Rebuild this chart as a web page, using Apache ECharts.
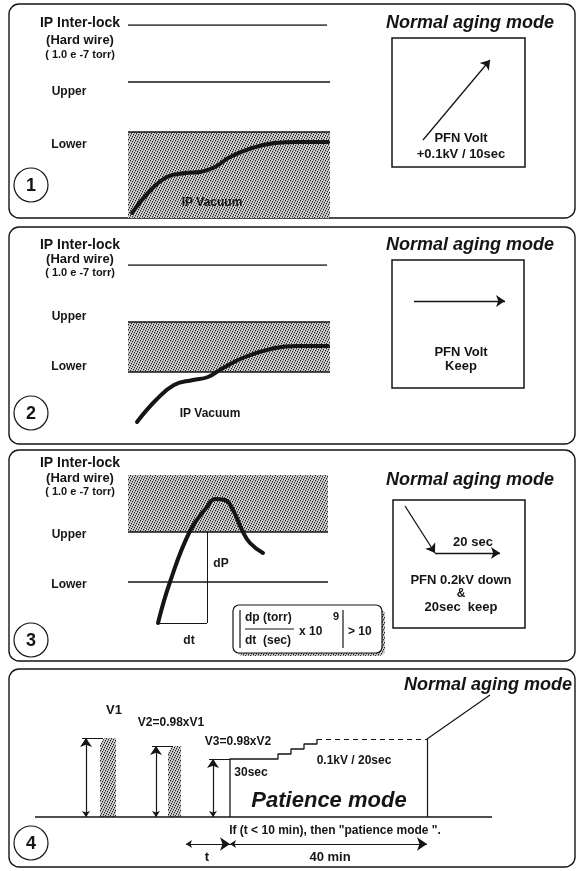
<!DOCTYPE html>
<html>
<head>
<meta charset="utf-8">
<script src="https://cdn.jsdelivr.net/npm/echarts@6/dist/echarts.min.js"></script>
<style>
html, body { margin: 0; padding: 0; background: #fff; }
#main { width: 582px; height: 871px; }
</style>
</head>
<body>
<div id="main"></div>
<script>
// pressure levels (same scale in panels 1-3)
var levelInterlock = 190;
var levelUpper = 133;
var levelLower = 83;

// panel 1 : IP vacuum stays under lower level
var p1VacX = [4, 20, 39, 58, 72, 87, 102, 124, 147, 169, 200];
var p1VacY = [2, 22, 38, 42, 43, 48, 58, 67, 72, 73, 73];
// panel 2 : crosses lower level, settles inside band
var p2VacX = [9, 28, 46, 65, 80, 95, 117, 147, 169, 200];
var p2VacY = [33, 55, 70, 75, 78, 87, 98, 107, 109, 109];
// panel 3 : overshoot above upper level
var p3VacX = [30, 42, 62, 79, 87, 97, 105, 114, 122, 135];
var p3VacY = [42, 83, 134, 158, 166, 165, 155, 135, 122, 112];
var p3DtX = [30, 79];
var p3DpY = [42, 133];

// PFN volt arrows inside the right boxes [x0, y0, x1, y1]
var box1Arrow = [31, 27, 98, 107];
var box2Arrow = [22, 87, 113, 87];
var box3Down = [12, 122, 42, 75];
var box3Keep = [42, 75, 107, 75];

// panel 4 : trip pulses and patience mode
var pulseX0 = [65, 133];
var pulseX1 = [81, 146];
var pulseV = [79, 71];
var vMarkX = [51, 121, 178];
var vMarkH = [79, 71, 58];
var stepX = [195, 195, 243, 243, 256, 256, 269, 269, 282, 282];
var stepY = [0, 58, 58, 63, 63, 68, 68, 73, 73, 78];
var normalV = 78;
var patienceEndX = 392;
var leaderEnd = [455, 122];
var baseEndX = 457;
var tStartX = 151;
var tEndX = 195;
var intervalY = -27;

var chart = echarts.init(document.getElementById('main'));

function zip(xs, ys) {
    return xs.map(function (x, i) { return [x, ys[i]]; });
}
function seg(x0, y0, x1, y1) {
    return { coords: [[x0, y0], [x1, y1]] };
}

// stipple fill, one dot per row and column in a 5x5 tile
function makeDots() {
    var c = document.createElement('canvas');
    c.width = 5; c.height = 5;
    var g = c.getContext('2d');
    g.fillStyle = '#cfcfcf';
    g.fillRect(0, 0, 5, 5);
    g.fillStyle = '#1e1e1e';
    [[0, 0], [2, 1], [4, 2], [1, 3], [3, 4]].forEach(function (p) { g.fillRect(p[0], p[1], 1, 1); });
    g.fillStyle = '#8a8a8a';
    [[3, 0], [0, 1], [2, 2], [4, 3], [1, 4]].forEach(function (p) { g.fillRect(p[0], p[1], 1, 1); });
    return c;
}
var dots = { image: makeDots(), repeat: 'repeat' };
var ink = '#151515';
var FONT = '"Liberation Sans", Arial, sans-serif';

// plot areas
var areas = [
    { left: 128, top: 25, width: 202, height: 193, xMin: 0, xMax: 202, yMin: -3, yMax: 190 },
    { left: 128, top: 265, width: 202, height: 178, xMin: 0, xMax: 202, yMin: 12, yMax: 190 },
    { left: 128, top: 475, width: 200, height: 185, xMin: 0, xMax: 200, yMin: 5, yMax: 190 },
    { left: 392, top: 38, width: 133, height: 129, xMin: 0, xMax: 133, yMin: 0, yMax: 129, box: true },
    { left: 392, top: 260, width: 132, height: 128, xMin: 0, xMax: 132, yMin: 0, yMax: 128, box: true },
    { left: 393, top: 500, width: 132, height: 128, xMin: 0, xMax: 132, yMin: 0, yMax: 128, box: true },
    { left: 35, top: 690, width: 457, height: 178, xMin: 0, xMax: 457, yMin: -51, yMax: 127 }
];

var grids = [], xAxes = [], yAxes = [];
areas.forEach(function (a, i) {
    grids.push({
        left: a.left, top: a.top, width: a.width, height: a.height,
        show: !!a.box, borderColor: ink, borderWidth: 1.5, backgroundColor: 'transparent'
    });
    xAxes.push({ type: 'value', gridIndex: i, min: a.xMin, max: a.xMax, show: false });
    yAxes.push({ type: 'value', gridIndex: i, min: a.yMin, max: a.yMax, show: false });
});

function shade(idx, rects) {
    return {
        type: 'custom', xAxisIndex: idx, yAxisIndex: idx, silent: true, clip: false,
        encode: { x: [0, 2], y: [1, 3] },
        data: rects,
        renderItem: function (params, api) {
            var p0 = api.coord([api.value(0), api.value(1)]);
            var p1 = api.coord([api.value(2), api.value(3)]);
            return {
                type: 'rect',
                shape: {
                    x: Math.min(p0[0], p1[0]), y: Math.min(p0[1], p1[1]),
                    width: Math.abs(p1[0] - p0[0]), height: Math.abs(p1[1] - p0[1])
                },
                style: { fill: dots }
            };
        }
    };
}
function segs(idx, data, width, opts) {
    var s = {
        type: 'lines', coordinateSystem: 'cartesian2d', xAxisIndex: idx, yAxisIndex: idx,
        silent: true, symbol: 'none',
        lineStyle: { color: ink, width: width || 1.5, opacity: 1 },
        data: data
    };
    if (opts) Object.keys(opts).forEach(function (k) { s[k] = opts[k]; });
    return s;
}
function curve(idx, xs, ys) {
    return {
        type: 'line', xAxisIndex: idx, yAxisIndex: idx, silent: true,
        data: zip(xs, ys), smooth: 0.45, symbol: 'none',
        lineStyle: { color: ink, width: 4, cap: 'round' }
    };
}
function arrow(idx, a) {
    return segs(idx, [seg(a[0], a[1], a[2], a[3])], 1.3, { symbol: ['none', 'arrow'], symbolSize: [6, 9] });
}

var series = [];
// panel 1
series.push(shade(0, [[0, -3, 202, levelLower]]));
series.push(segs(0, [
    seg(0, levelInterlock, 199, levelInterlock),
    seg(0, levelUpper, 202, levelUpper),
    seg(0, levelLower, 202, levelLower)
]));
series.push(curve(0, p1VacX, p1VacY));
// panel 2
series.push(shade(1, [[0, levelLower, 202, levelUpper]]));
series.push(segs(1, [
    seg(0, levelInterlock, 199, levelInterlock),
    seg(0, levelUpper, 202, levelUpper),
    seg(0, levelLower, 202, levelLower)
]));
series.push(curve(1, p2VacX, p2VacY));
// panel 3
series.push(shade(2, [[0, levelUpper, 200, levelInterlock]]));
series.push(segs(2, [
    seg(0, levelUpper, 200, levelUpper),
    seg(0, levelLower, 200, levelLower)
]));
series.push(segs(2, [
    seg(p3DtX[1], p3DpY[0], p3DtX[1], p3DpY[1]),
    seg(p3DtX[0], p3DpY[0], p3DtX[1], p3DpY[0])
], 1));
series.push(curve(2, p3VacX, p3VacY));
// right boxes
series.push(arrow(3, box1Arrow));
series.push(arrow(4, box2Arrow));
series.push(arrow(5, box3Down));
series.push(arrow(5, box3Keep));

// panel 4
series.push({
    type: 'custom', xAxisIndex: 6, yAxisIndex: 6, silent: true, clip: false,
    encode: { x: [0, 1], y: 2 },
    data: pulseX0.map(function (x, i) { return [x, pulseX1[i], pulseV[i]]; }),
    renderItem: function (params, api) {
        var x0 = api.value(0), x1 = api.value(1), v = api.value(2);
        var pts = [[x0, 0], [x0, v - 7], [x0 + 4, v], [x1, v], [x1, 0]].map(function (p) {
            return api.coord(p);
        });
        return { type: 'polygon', shape: { points: pts }, style: { fill: dots } };
    }
});
series.push(segs(6, [seg(0, 0, baseEndX, 0)], 1.5));
series.push(segs(6, vMarkX.map(function (x, i) {
    return seg(x, 0, x, vMarkH[i]);
}), 1.2, { symbol: ['arrow', 'arrow'], symbolSize: [6, 9] }));
series.push(segs(6, vMarkX.map(function (x, i) {
    return seg(x - 4, vMarkH[i], x + 17, vMarkH[i]);
}), 1));
series.push({
    type: 'line', xAxisIndex: 6, yAxisIndex: 6, silent: true, symbol: 'none',
    data: zip(stepX, stepY), lineStyle: { color: ink, width: 1.3 }
});
series.push(segs(6, [seg(stepX[stepX.length - 1], normalV, patienceEndX, normalV)], 1.2,
    { lineStyle: { color: ink, width: 1.2, type: [5, 4], opacity: 1 } }));
series.push(segs(6, [
    seg(patienceEndX, normalV, patienceEndX, 0),
    seg(patienceEndX, normalV, leaderEnd[0], leaderEnd[1])
], 1.2));
series.push(segs(6, [
    seg(tStartX, intervalY, tEndX, intervalY),
    seg(tEndX, intervalY, patienceEndX, intervalY)
], 1.1, { symbol: ['arrow', 'arrow'], symbolSize: [6, 10] }));

// ---- texts and frames
function txt(s, x, y, size, extra) {
    extra = extra || {};
    return {
        type: 'text', x: x, y: y, silent: true, z: 20,
        style: {
            text: s,
            font: (extra.italic ? 'italic ' : '') + (extra.weight || 'bold') + ' ' + size + 'px ' + FONT,
            fill: ink,
            align: extra.align || 'center', textAlign: extra.align || 'center',
            verticalAlign: 'middle', textVerticalAlign: 'middle'
        }
    };
}
function rule(x1, y1, x2, y2, w) {
    return { type: 'line', shape: { x1: x1, y1: y1, x2: x2, y2: y2 }, style: { stroke: ink, lineWidth: w }, silent: true, z: 20 };
}
var graphics = [];
[[9, 4, 566, 214], [9, 227, 566, 217], [9, 450, 566, 211], [9, 669, 566, 198]].forEach(function (r) {
    graphics.push({
        type: 'rect', shape: { x: r[0], y: r[1], width: r[2], height: r[3], r: 10 },
        style: { fill: 'none', stroke: ink, lineWidth: 1.4 }, silent: true
    });
});
[[31, 185, '1'], [31, 413, '2'], [31, 640, '3'], [31, 843, '4']].forEach(function (c) {
    graphics.push({
        type: 'circle', shape: { cx: c[0], cy: c[1], r: 17 },
        style: { fill: '#fff', stroke: ink, lineWidth: 1.2 }, silent: true
    });
    graphics.push(txt(c[2], c[0], c[1] + 1, 18));
});
// left labels for panels 1-3
[[23, 40, 55, 92, 145], [245, 259, 273, 317, 367], [463, 478, 492, 535, 585]].forEach(function (r) {
    graphics.push(txt('IP Inter-lock', 80, r[0], 14));
    graphics.push(txt('(Hard wire)', 80, r[1], 13));
    graphics.push(txt('( 1.0 e -7 torr)', 80, r[2], 11));
    graphics.push(txt('Upper', 69, r[3], 12));
    graphics.push(txt('Lower', 69, r[4], 12));
});
graphics.push(txt('IP Vacuum', 212, 203, 12));
graphics.push(txt('IP Vacuum', 210, 414, 12));
graphics.push(txt('dP', 221, 564, 12));
graphics.push(txt('dt', 189, 641, 12));
// right boxes
graphics.push(txt('Normal aging mode', 470, 23, 18, { italic: true }));
graphics.push(txt('PFN Volt', 461, 138, 13));
graphics.push(txt('+0.1kV / 10sec', 461, 154, 13));
graphics.push(txt('Normal aging mode', 470, 245, 18, { italic: true }));
graphics.push(txt('PFN Volt', 461, 352, 13));
graphics.push(txt('Keep', 461, 366, 13));
graphics.push(txt('Normal aging mode', 470, 480, 18, { italic: true }));
graphics.push(txt('20 sec', 473, 542, 13));
graphics.push(txt('PFN 0.2kV down', 461, 580, 13));
graphics.push(txt('&', 461, 594, 12));
graphics.push(txt('20sec  keep', 461, 607, 13));
// formula box
graphics.push({
    type: 'rect', shape: { x: 237, y: 609, width: 148, height: 47, r: 6 },
    style: { fill: dots, stroke: null }, silent: true
});
graphics.push({
    type: 'rect', shape: { x: 233, y: 605, width: 149, height: 48, r: 6 },
    style: { fill: '#fff', stroke: ink, lineWidth: 1.2 }, silent: true
});
graphics.push(rule(240, 610, 240, 648, 1.2));
graphics.push(rule(343, 610, 343, 648, 1.2));
graphics.push(rule(245, 629, 294, 629, 1));
graphics.push(txt('dp (torr)', 245, 618, 12, { align: 'left' }));
graphics.push(txt('dt  (sec)', 245, 641, 12, { align: 'left' }));
graphics.push(txt('x 10', 299, 632, 12, { align: 'left' }));
graphics.push(txt('9', 336, 617, 11));
graphics.push(txt('> 10', 348, 632, 12, { align: 'left' }));
// panel 4
graphics.push(txt('Normal aging mode', 572, 685, 18, { italic: true, align: 'right' }));
graphics.push(txt('V1', 114, 710, 13));
graphics.push(txt('V2=0.98xV1', 171, 723, 12));
graphics.push(txt('V3=0.98xV2', 238, 742, 12));
graphics.push(txt('0.1kV / 20sec', 354, 761, 12));
graphics.push(txt('30sec', 251, 773, 12));
graphics.push(txt('Patience mode', 329, 801, 22, { italic: true }));
graphics.push(txt('If (t < 10 min), then "patience mode ".', 335, 831, 12));
graphics.push(txt('t', 207, 857, 13));
graphics.push(txt('40 min', 330, 857, 13));

chart.setOption({
    backgroundColor: '#fff',
    animation: false,
    grid: grids,
    xAxis: xAxes,
    yAxis: yAxes,
    series: series,
    graphic: { elements: graphics }
});
</script>
</body>
</html>
